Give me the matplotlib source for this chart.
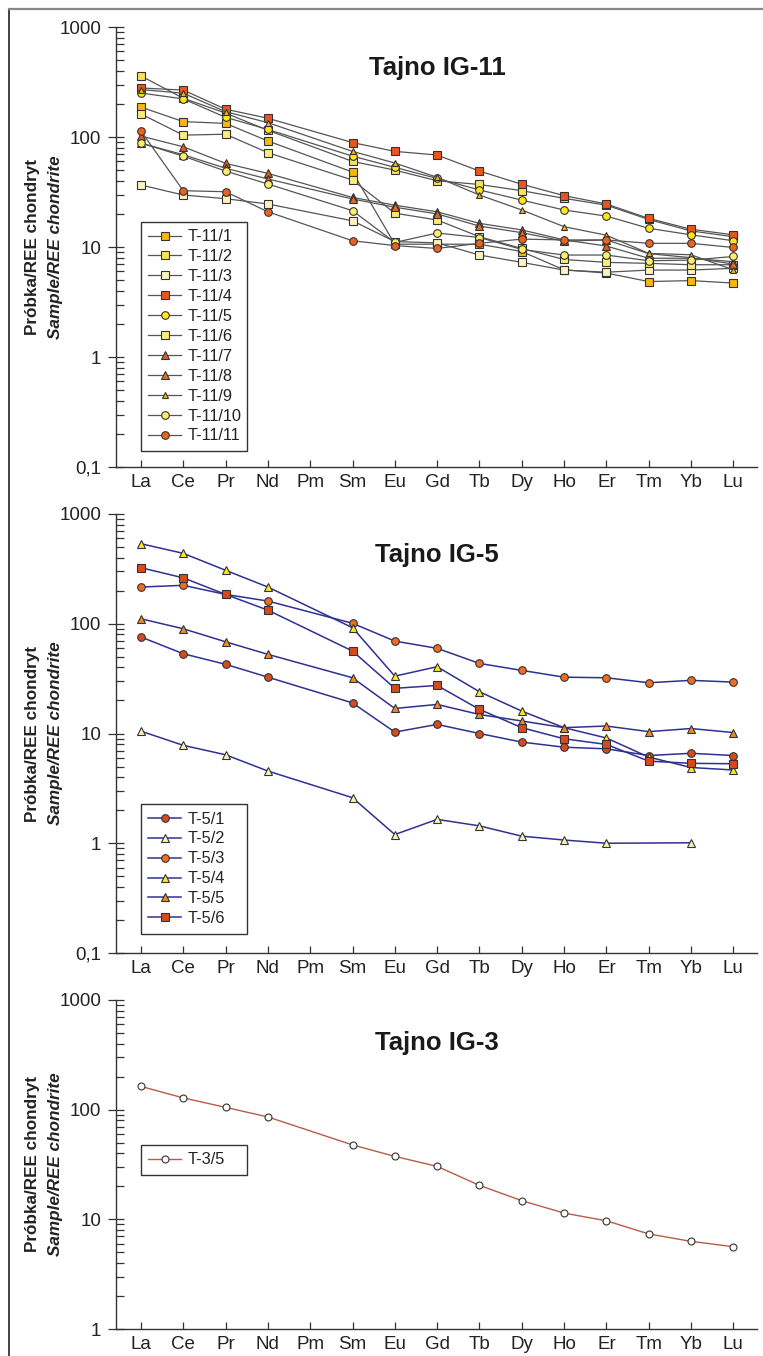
import numpy as np
import matplotlib
matplotlib.use('Agg')
import matplotlib.pyplot as plt
from matplotlib.lines import Line2D
from matplotlib.ticker import FixedLocator, LogLocator, NullFormatter
import matplotlib.transforms as mtransforms

plt.rcParams['font.family'] = ['Liberation Sans', 'DejaVu Sans']

nan = np.nan
elements = ['La', 'Ce', 'Pr', 'Nd', 'Pm', 'Sm', 'Eu', 'Gd', 'Tb', 'Dy', 'Ho', 'Er', 'Tm', 'Yb', 'Lu']

# --- Tajno IG-11 ---
t11_labels = ['T-11/1', 'T-11/2', 'T-11/3', 'T-11/4', 'T-11/5', 'T-11/6',
              'T-11/7', 'T-11/8', 'T-11/9', 'T-11/10', 'T-11/11']
t11_1 = [187, 138, 133, 92, nan, 48, 10.6, 10.6, 10.6, 9.1, 6.2, 5.8, 4.85, 4.95, 4.7]
t11_2 = [359, 225, 165, 115, nan, 60, 50, 40, 37, 32.5, 27.7, 24, 17.8, 14, 12.4]
t11_3 = [36.6, 29.7, 27.5, 24.6, nan, 17.3, 11.2, 10.9, 8.45, 7.25, 6.17, 5.9, 6.17, 6.17, 6.4]
t11_4 = [279, 267, 179, 148, nan, 89, 74, 68.6, 49, 37.2, 29.3, 24.6, 18.2, 14.5, 12.9]
t11_5 = [251, 222, 151, 117, nan, 67, 53, 42, 33, 26.7, 21.7, 19.1, 14.8, 12.9, 11.4]
t11_6 = [162, 104, 106, 72, nan, 40.6, 20.3, 17.6, 12.4, 9.7, 7.7, 7.25, 7.1, 6.9, 6.9]
t11_7 = [102, 81.5, 57.6, 46.7, nan, 28.2, 24, 20.9, 16.4, 14.3, 11.6, 10.2, 7.9, 7.9, 7.35]
t11_8 = [88, 69, 52, 41.5, nan, 27.3, 23, 20, 15.5, 13.5, 11.3, 11.6, 8.7, 8.0, 7.0]
t11_9 = [270, 250, 170, 135, nan, 74, 58, 43, 29.7, 21.7, 15.3, 12.8, 8.75, 8.5, 6.2]
t11_10 = [88, 67, 49, 37.4, nan, 21.4, 11, 13.4, 12.2, 9.5, 8.45, 8.45, 7.5, 7.6, 8.2]
t11_11 = [113, 32.5, 31.8, 20.9, nan, 11.4, 10.3, 9.7, 10.8, 11.8, 11.6, 11.6, 10.8, 10.8, 9.9]
t11_data = [t11_1, t11_2, t11_3, t11_4, t11_5, t11_6, t11_7, t11_8, t11_9, t11_10, t11_11]

# --- Tajno IG-5 ---
t5_labels = ['T-5/1', 'T-5/2', 'T-5/3', 'T-5/4', 'T-5/5', 'T-5/6']
t5_1 = [75.7, 53.3, 42.7, 32.6, nan, 19, 10.3, 12.1, 10, 8.35, 7.5, 7.25, 6.3, 6.6, 6.3]
t5_2 = [10.5, 7.8, 6.4, 4.55, nan, 2.6, 1.2, 1.65, 1.44, 1.16, 1.07, 1.0, nan, 1.01, nan]
t5_3 = [216, 224, 185, 161, nan, 101, 69.5, 59.7, 43.5, 37.6, 32.6, 32.2, 29, 30.5, 29.4]
t5_4 = [536, 438, 307, 216, nan, 92, 33.3, 40.6, 24, 16, 11.3, 9.1, 6.1, 4.9, 4.65]
t5_5 = [111, 90, 68.5, 52.6, nan, 32.2, 16.9, 18.4, 14.9, 13, 11.3, 11.7, 10.4, 11.1, 10.2]
t5_6 = [324, 262, 185, 133, nan, 56.4, 25.8, 27.4, 16.6, 11.3, 8.95, 7.95, 5.6, 5.35, 5.3]
t5_data = [t5_1, t5_2, t5_3, t5_4, t5_5, t5_6]

# --- Tajno IG-3 ---
t3_labels = ['T-3/5']
t3_5 = [163, 128, 105, 85.8, nan, 47.7, 37.5, 30.4, 20.4, 14.8, 11.4, 9.7, 7.36, 6.3, 5.63]
t3_data = [t3_5]

# styles
t11_markers = ['s', 's', 's', 's', 'o', 's', '^', '^', '^', 'o', 'o']
t11_faces = ['#F6B80E', '#F7E35A', '#FDF3C2', '#E8561C', '#FFE617', '#F9EC7A',
             '#E35A1E', '#E86A20', '#F4B70C', '#FFEE6A', '#EE6120']
t11_sizes = [5.5, 5.5, 5.5, 5.5, 5.5, 5.5, 6, 6, 4.5, 5.5, 5.5]
t5_markers = ['o', '^', 'o', '^', '^', 's']
t5_faces = ['#D94A1E', '#FBF1B8', '#F26B21', '#FFE81A', '#F08B24', '#D84A1D']
t5_sizes = [5.5, 6, 5.5, 6, 6, 5.5]

W, H = 763, 1356
fig = plt.figure(figsize=(W / 100, H / 100), dpi=100)

ax_left = 116
ax_right = 757


def make_axes(top_px, bottom_px):
    return fig.add_axes([ax_left / W, 1 - bottom_px / H,
                         (ax_right - ax_left) / W, (bottom_px - top_px) / H])


def setup(ax, ymin, ymax, ticks, ticklabels):
    ax.set_yscale('log')
    ax.set_ylim(ymin, ymax)
    ax.set_xlim(-0.59, 14.56)
    ax.set_xticks(range(len(elements)))
    ax.set_xticklabels(elements, fontsize=13.5, color='#222222')
    ax.yaxis.set_major_locator(FixedLocator(ticks))
    ax.set_yticklabels(ticklabels, fontsize=13.5, color='#222222')
    ax.yaxis.set_minor_locator(LogLocator(base=10, subs=np.arange(2, 10)))
    ax.yaxis.set_minor_formatter(NullFormatter())
    for s in ['top', 'right']:
        ax.spines[s].set_visible(False)
    for s in ['left', 'bottom']:
        ax.spines[s].set_linewidth(1.0)
        ax.spines[s].set_color('#333333')
    ax.tick_params(axis='y', which='major', direction='inout', length=11, width=0.9,
                   color='#333333', pad=5)
    ax.tick_params(axis='y', which='minor', direction='in', length=6, width=0.9,
                   color='#333333')
    ax.tick_params(axis='x', which='major', direction='in', length=5, width=0.9,
                   color='#333333', pad=5)
    ax.set_facecolor('none')


def draw(ax, data, labels, markers, faces, sizes, line_color, lw):
    x = np.arange(len(elements))
    for vals, lab, m, f, s in zip(data, labels, markers, faces, sizes):
        y = np.array(vals, dtype=float)
        ok = ~np.isnan(y)
        ax.plot(x[ok], y[ok], color=line_color, lw=lw, marker=m, mfc=f,
                mec='#333333', mew=0.8, ms=s, label=lab)


def legend(ax, y_anchor):
    leg = ax.legend(loc='upper left', bbox_to_anchor=(0.039, y_anchor, 106 / 641, 0),
                    mode='expand', borderaxespad=0, fontsize=11.8, frameon=True,
                    fancybox=False, edgecolor='#333333', framealpha=1,
                    handlelength=2.0, handletextpad=0.4, labelspacing=0.3,
                    borderpad=0.45, numpoints=1)
    leg.get_frame().set_linewidth(1.0)
    for t in leg.get_texts():
        t.set_color('#222222')
    return leg


def title(ax, text, yfrac):
    trans = mtransforms.blended_transform_factory(ax.transData, ax.transAxes)
    ax.text(7, yfrac, text, transform=trans, ha='center', va='center',
            fontsize=18.5, fontweight='bold', color='#1a1a1a')


def ylabel(top_px, bottom_px):
    yc = 1 - (top_px + bottom_px) / 2 / H
    fig.text(33 / W, yc, 'Próbka/REE chondryt', rotation=90, ha='center', va='center',
             fontsize=12.3, fontweight='bold', color='#222222')
    fig.text(56 / W, yc, 'Sample/REE chondrite', rotation=90, ha='center', va='center',
             fontsize=12.3, fontweight='bold', style='italic', color='#222222')


# top panel
ax1 = make_axes(27, 467)
setup(ax1, 0.1, 1000, [0.1, 1, 10, 100, 1000], ['0,1', '1', '10', '100', '1000'])
draw(ax1, t11_data, t11_labels, t11_markers, t11_faces, t11_sizes, '#555555', 0.9)
legend(ax1, 0.557)
title(ax1, 'Tajno IG-11', 0.907)
ylabel(27, 467)

# middle panel
ax2 = make_axes(514, 953)
setup(ax2, 0.1, 1000, [0.1, 1, 10, 100, 1000], ['0,1', '1', '10', '100', '1000'])
draw(ax2, t5_data, t5_labels, t5_markers, t5_faces, t5_sizes, '#2E3192', 1.1)
legend(ax2, 0.339)
title(ax2, 'Tajno IG-5', 0.907)
ylabel(514, 953)

# bottom panel
ax3 = make_axes(1000, 1329)
setup(ax3, 1, 1000, [1, 10, 100, 1000], ['1', '10', '100', '1000'])
draw(ax3, t3_data, t3_labels, ['o'], ['white'], [5], '#B85C45', 1.0)
legend(ax3, 0.559)
title(ax3, 'Tajno IG-3', 0.869)
ylabel(1000, 1329)

# page frame
fig.add_artist(Line2D([9 / W, 9 / W], [0, 1 - 9 / H], transform=fig.transFigure,
                      color='#222222', lw=1.2))
fig.add_artist(Line2D([9 / W, 1], [1 - 9 / H, 1 - 9 / H], transform=fig.transFigure,
                      color='#888888', lw=1.6))

fig.savefig('out.png', dpi=100)
